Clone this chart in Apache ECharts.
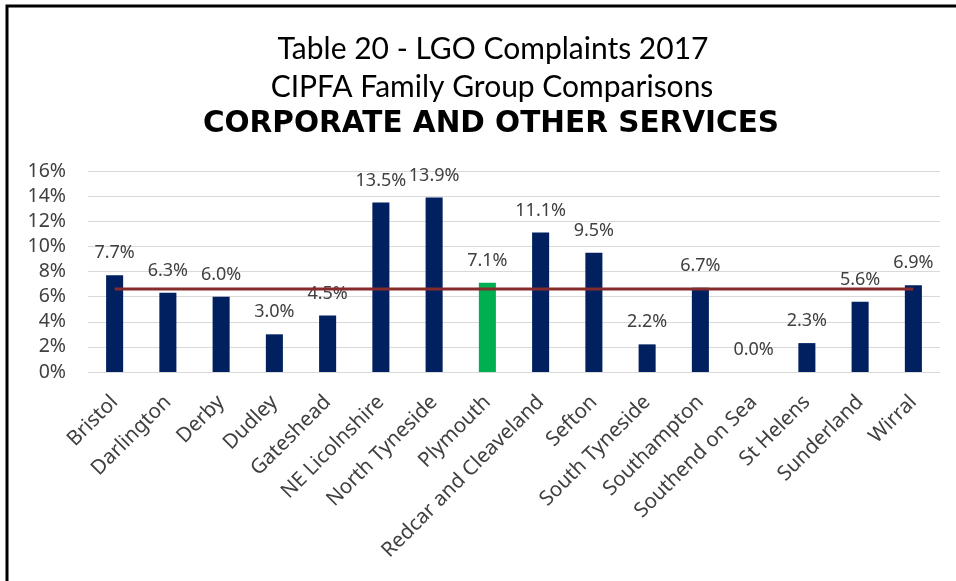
<!DOCTYPE html>
<html>
<head>
<meta charset="utf-8">
<style>
  html, body { margin: 0; padding: 0; background: #fff; }
  #chart { width: 956px; height: 581px; }
</style>
<script src="https://cdn.jsdelivr.net/npm/echarts@6/dist/echarts.min.js"></script>
</head>
<body>
<div id="chart"></div>
<script>
// Councils in the CIPFA family group
const councils = [
  'Bristol', 'Darlington', 'Derby', 'Dudley', 'Gateshead', 'NE Licolnshire',
  'North Tyneside', 'Plymouth', 'Redcar and Cleaveland', 'Sefton', 'South Tyneside',
  'Southampton', 'Southend on Sea', 'St Helens', 'Sunderland', 'Wirral'
];
// Share of LGO complaints for corporate and other services (%)
const complaintShare = [7.7, 6.3, 6.0, 3.0, 4.5, 13.5, 13.9, 7.1, 11.1, 9.5, 2.2, 6.7, 0.0, 2.3, 5.6, 6.9];
// Family group average (%)
const groupAverage = 6.6;
// Council highlighted in green
const highlighted = 'Plymouth';
// Y axis range and step (%)
const yMin = 0, yMax = 16, yStep = 2;

const titleLines = [
  'Table 20 - LGO Complaints 2017',
  'CIPFA Family Group Comparisons',
  'CORPORATE AND OTHER SERVICES'
];

const NAVY = '#002060';
const GREEN = '#00B050';
const TEXT = '#404040';
const LABEL_FONT = 'Noto Sans';

const chart = echarts.init(document.getElementById('chart'), null, { renderer: 'canvas' });

chart.setOption({
  backgroundColor: '#ffffff',
  animation: false,
  title: [
    { text: titleLines[0], left: 488, top: 28, textAlign: 'center',
      textStyle: { fontFamily: 'Lato', fontWeight: 'normal', fontSize: 30, color: '#000', lineHeight: 32 } },
    { text: titleLines[1], left: 487, top: 66, textAlign: 'center',
      textStyle: { fontFamily: 'Lato', fontWeight: 'normal', fontSize: 30, color: '#000', lineHeight: 32 } },
    { text: titleLines[2], left: 486, top: 103, textAlign: 'center',
      textStyle: { fontFamily: 'DejaVu Sans', fontWeight: 'bold', fontSize: 29.5, color: '#000', lineHeight: 32 } }
  ],
  graphic: [
    {
      type: 'polyline',
      shape: { points: [[7, 581], [7, 6], [956, 6]] },
      style: { stroke: '#000', lineWidth: 3, fill: null },
      silent: true
    }
  ],
  grid: { left: 88, right: 16, top: 171, bottom: 209, containLabel: false },
  xAxis: {
    type: 'category',
    data: councils,
    axisLine: { show: true, lineStyle: { color: '#d9d9d9', width: 1 } },
    axisTick: { show: false },
    axisLabel: {
      interval: 0, rotate: 45, margin: 27,
      fontFamily: LABEL_FONT, fontSize: 20.5, color: TEXT
    }
  },
  yAxis: {
    type: 'value',
    min: yMin, max: yMax, interval: yStep,
    axisLine: { show: false },
    axisTick: { show: false },
    splitLine: { show: true, lineStyle: { color: '#d9d9d9', width: 1 } },
    axisLabel: {
      margin: 22, fontFamily: LABEL_FONT, fontSize: 19.5, color: TEXT,
      formatter: v => v + '%'
    }
  },
  series: [
    {
      name: 'Share',
      type: 'bar',
      barWidth: '32%',
      data: complaintShare.map((v, i) => ({
        value: v,
        itemStyle: { color: councils[i] === highlighted ? GREEN : NAVY }
      })),
      label: {
        show: true, position: 'top', distance: 13,
        fontFamily: LABEL_FONT, fontSize: 18, color: TEXT,
        formatter: p => p.value.toFixed(1) + '%'
      },
      z: 2
    },
    {
      name: 'Average',
      type: 'line',
      data: councils.map(() => groupAverage),
      symbol: 'none',
      lineStyle: { color: '#862B2B', width: 3 },
      z: 3
    }
  ]
});
</script>
</body>
</html>
